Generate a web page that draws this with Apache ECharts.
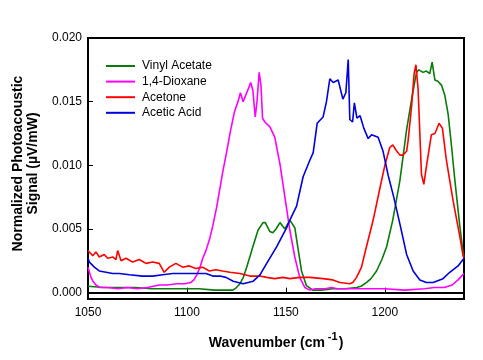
<!DOCTYPE html>
<html>
<head>
<meta charset="utf-8">
<script src="https://cdn.jsdelivr.net/npm/echarts@6/dist/echarts.min.js"></script>
<style>
html,body{margin:0;padding:0;background:#fff;}
#chart{width:483px;height:360px;}
</style>
</head>
<body>
<div id="chart"></div>
<script>
const seriesNames = ['Vinyl Acetate', '1,4-Dioxane', 'Acetone', 'Acetic Acid'];
const xTicks = [1050, 1100, 1150, 1200];
const yTicks = [0, 0.005, 0.010, 0.015, 0.020];

const vinylAcetateX = [1050,1058,1066,1074,1082,1090,1098,1106,1114,1120,1123.2,1125,1126.8,1128.5,1130.2,1133.3,1135.9,1138.4,1139.6,1141.9,1143.4,1145,1147,1149.5,1152,1154.5,1156,1157.9,1160.4,1163.6,1168,1173.7,1180,1185.7,1188,1190.8,1193,1195.8,1198.5,1200.9,1204,1207.6,1211,1214.1,1216,1217.2,1219.3,1221,1222.7,1223.9,1225.3,1226.8,1228.6,1230.3,1232,1233.7,1235.4,1237.9,1239.5,1240];
const vinylAcetateY = [0.0005,0.0004,0.0004,0.0004,0.0003,0.0003,0.0003,0.0003,0.0002,0.0002,0.0002,0.0004,0.0007,0.0012,0.0020,0.0036,0.0049,0.0055,0.0055,0.0048,0.0047,0.0050,0.0055,0.0050,0.0057,0.0051,0.0036,0.0017,0.00055,0.0002,0.0002,0.0003,0.0003,0.0004,0.0005,0.0008,0.0011,0.0017,0.0026,0.0036,0.0057,0.0088,0.0128,0.0157,0.0173,0.0175,0.0173,0.0174,0.0172,0.0181,0.0167,0.0166,0.0163,0.0155,0.0140,0.0115,0.0088,0.0052,0.0032,0.0028];

const dioxaneX = [1050,1050.5,1051.5,1052.5,1054,1056,1060,1065,1070,1075,1080,1083,1086,1090,1095,1099,1102,1103.5,1105,1106.6,1108,1109.6,1111.6,1113,1115,1118,1120,1122,1124,1126,1127,1128.4,1130.2,1131.5,1132.2,1133.3,1134.5,1135.4,1136.5,1137.4,1138.2,1139.4,1142,1144.4,1147,1149.5,1152,1154.5,1157,1159.6,1162,1165,1170,1173,1176,1180,1190,1200,1210,1220,1225,1230,1234,1237,1240];
const dioxaneY = [0.0020,0.0019,0.0012,0.0009,0.0006,0.0004,0.0004,0.0003,0.0004,0.0003,0.0004,0.0005,0.0006,0.0006,0.0007,0.0007,0.0008,0.0010,0.0014,0.0020,0.0027,0.0033,0.0043,0.0052,0.0067,0.0094,0.0110,0.0127,0.0142,0.0151,0.0157,0.0150,0.0157,0.0162,0.0165,0.0159,0.0138,0.0150,0.0173,0.0163,0.0137,0.0134,0.0130,0.0122,0.0101,0.0075,0.0049,0.0028,0.0012,0.0004,0.0002,0.0003,0.0003,0.0004,0.0003,0.0003,0.0003,0.0003,0.0002,0.0003,0.0004,0.0004,0.0006,0.0010,0.0015];

const acetoneX = [1050,1050.7,1052.4,1054,1055.7,1058.2,1060,1062.5,1064.1,1065,1066.7,1069.2,1072.6,1075.9,1079.3,1082.7,1086,1088.5,1091.1,1094.4,1097.8,1101.2,1104.5,1107.9,1111.3,1114.6,1118,1121.7,1126.8,1131.8,1136.9,1140.3,1144.4,1148.5,1152,1157.1,1162.1,1168.7,1173.7,1177.3,1182.3,1183.8,1185.7,1188.2,1190.7,1194.1,1197.5,1200,1202.5,1204,1205.6,1207.6,1209.1,1211,1211.8,1213.5,1214.8,1215.7,1216.8,1218.5,1219.7,1221,1223.5,1225.3,1227.4,1229.1,1231.1,1234.5,1237.9,1239.5,1240];
const acetoneY = [0.0033,0.0034,0.0029,0.0032,0.0028,0.0030,0.0027,0.0028,0.0026,0.0033,0.0025,0.0027,0.0024,0.0026,0.0023,0.0024,0.0023,0.0016,0.0020,0.0023,0.0020,0.0021,0.0019,0.0020,0.0017,0.0018,0.0017,0.0016,0.0015,0.0013,0.0013,0.0012,0.0011,0.0012,0.0011,0.0012,0.0012,0.0011,0.0010,0.0008,0.0007,0.0008,0.0012,0.0020,0.0036,0.0057,0.0082,0.0100,0.0114,0.0116,0.0112,0.0108,0.0108,0.0111,0.0120,0.0146,0.0172,0.0179,0.0160,0.0093,0.0085,0.0099,0.0124,0.0125,0.0133,0.0129,0.0104,0.0072,0.0044,0.0029,0.0027];

const aceticAcidX = [1050,1050.7,1053.2,1055.7,1059.1,1062.5,1065.8,1070.9,1077.6,1082.7,1087.7,1092.8,1097.8,1104.5,1109.6,1113.1,1116.7,1119.7,1123.4,1128.4,1133.5,1136.9,1140.3,1145.3,1150.4,1152,1155.4,1158.7,1162.1,1163.8,1165.8,1168.8,1170.5,1172.2,1173.9,1176.4,1178.8,1180.3,1181.5,1182.3,1183.7,1184.6,1185.9,1187.5,1189.4,1191.6,1193.3,1196.6,1199.1,1201.7,1204.5,1207.6,1211,1214.3,1217.7,1221,1224.4,1229.4,1232.8,1237,1240];
const aceticAcidY = [0.0027,0.0024,0.0020,0.0017,0.0016,0.0015,0.0015,0.0014,0.0013,0.0013,0.0014,0.0015,0.0015,0.0015,0.0015,0.0013,0.0013,0.0012,0.0009,0.0007,0.0009,0.0014,0.0023,0.0036,0.0051,0.0057,0.0068,0.0091,0.0104,0.0110,0.0133,0.0138,0.0150,0.0168,0.0165,0.0167,0.0152,0.0157,0.0183,0.0136,0.0134,0.0149,0.0137,0.0139,0.0129,0.0121,0.0124,0.0122,0.0111,0.0092,0.0075,0.0054,0.0030,0.0017,0.0010,0.0008,0.0008,0.0011,0.0016,0.0021,0.0027];

const colors = ['#0a7a0a', '#ff00ff', '#ff0000', '#0000dd'];

function pairs(xs, ys) {
  const n = Math.min(xs.length, ys.length);
  const out = [];
  for (let i = 0; i < n; i++) out.push([xs[i], ys[i]]);
  return out;
}
const allData = [
  pairs(vinylAcetateX, vinylAcetateY),
  pairs(dioxaneX, dioxaneY),
  pairs(acetoneX, acetoneY),
  pairs(aceticAcidX, aceticAcidY)
];

const FONT = '"Liberation Sans", Arial, sans-serif';
const chart = echarts.init(document.getElementById('chart'), null, {renderer: 'canvas'});
chart.setOption({
  animation: false,
  backgroundColor: '#fff',
  textStyle: {fontFamily: FONT},
  grid: {left: 88, right: 19, top: 38, bottom: 61, show: true, borderColor: '#000', borderWidth: 2, backgroundColor: 'transparent'},
  legend: {
    orient: 'vertical', left: 101, top: 55,
    itemWidth: 29, itemHeight: 2, itemGap: 3.6, icon: 'rect',
    data: seriesNames,
    textStyle: {fontFamily: FONT, fontSize: 12, color: '#000', lineHeight: 12, padding: [0, 0, 0, 2]}
  },
  xAxis: {
    type: 'value', min: 1050, max: 1240,
    name: '{a|Wavenumber (cm}{s|-1}{a|)}',
    nameLocation: 'middle', nameGap: 32,
    nameTextStyle: {
      rich: {
        a: {fontFamily: FONT, fontSize: 14, fontWeight: 'bold', color: '#000', lineHeight: 19, verticalAlign: 'bottom'},
        s: {fontFamily: FONT, fontSize: 11, fontWeight: 'bold', color: '#000', lineHeight: 19, verticalAlign: 'top', padding: [0, 1, 0, 3]}
      }
    },
    axisLine: {show: true, lineStyle: {color: '#000', width: 2}},
    axisTick: {show: true, inside: true, length: 5, lineStyle: {color: '#000', width: 1}, customValues: xTicks},
    axisLabel: {color: '#000', fontSize: 12, fontFamily: FONT, margin: 8, customValues: xTicks,
      formatter: v => String(Math.round(v))},
    splitLine: {show: false}
  },
  yAxis: {
    type: 'value', min: -0.0005, max: 0.020,
    name: 'Normalized Photoacoustic\nSignal (µV/mW)',
    nameLocation: 'middle', nameGap: 43,
    nameTextStyle: {fontFamily: FONT, fontSize: 14, fontWeight: 'bold', color: '#000', lineHeight: 15, padding: [0, 0, 0, 10]},
    axisLine: {show: true, lineStyle: {color: '#000', width: 2}},
    axisTick: {show: true, inside: true, length: 5, lineStyle: {color: '#000', width: 1}, customValues: yTicks},
    axisLabel: {color: '#000', fontSize: 12, fontFamily: FONT, margin: 6, customValues: yTicks,
      formatter: v => Number(v).toFixed(3)},
    splitLine: {show: false}
  },
  series: seriesNames.map((name, i) => ({
    name: name,
    type: 'line',
    data: allData[i],
    showSymbol: false,
    symbol: 'none',
    color: colors[i],
    lineStyle: {color: colors[i], width: 1.6},
    z: 2 + i
  }))
});
</script>
</body>
</html>
